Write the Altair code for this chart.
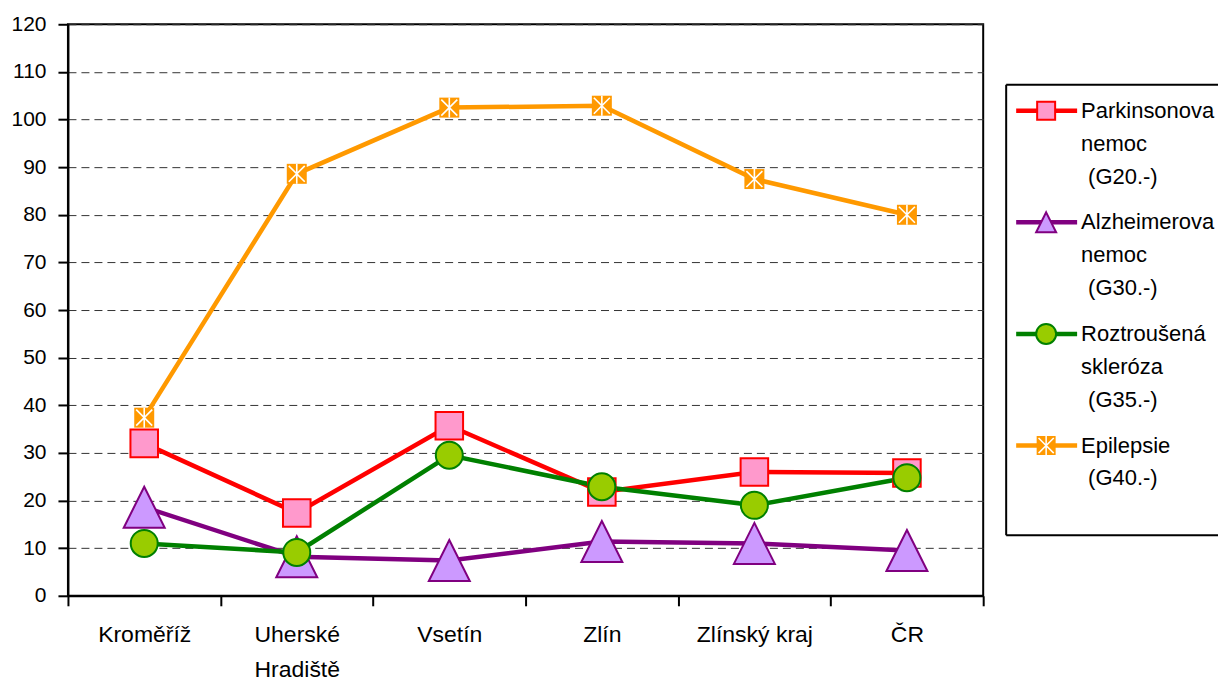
import altair as alt
import pandas as pd

# ---------------- data ----------------
categories = ["Kroměříž", "Uherské Hradiště", "Vsetín", "Zlín", "Zlínský kraj", "ČR"]
series_names = [
    "Parkinsonova nemoc (G20.-)",
    "Alzheimerova nemoc (G30.-)",
    "Roztroušená skleróza (G35.-)",
    "Epilepsie (G40.-)",
]
legend_names = ["Parkinsonova\nnemoc", "Alzheimerova\nnemoc", "Roztroušená\nskleróza", "Epilepsie"]
legend_codes = ["(G20.-)", "(G30.-)", "(G35.-)", "(G40.-)"]
parkinson = [32.0, 17.4, 35.7, 21.8, 26.0, 25.8]
alzheimer = [18.6, 8.2, 7.4, 11.4, 11.0, 9.5]
roztrousena = [11.0, 9.1, 29.5, 22.9, 19.0, 24.8]
epilepsie = [37.4, 88.6, 102.5, 102.9, 87.5, 80.0]
y_ticks = [0, 10, 20, 30, 40, 50, 60, 70, 80, 90, 100, 110, 120]

# ---------------- styles ----------------
line_colors = ["#FF0000", "#800080", "#008000", "#FF9900"]
fill_colors = ["#FF99CC", "#CC99FF", "#99CC00", "#FF9900"]
TRI = "M0,-1L1,1L-1,1Z"
STAR = "M-0.8,-0.8L0.8,0.8M0.8,-0.8L-0.8,0.8M0,-1L0,1"
shapes = ["square", TRI, "circle", "square"]
plot_sizes = [760, 1681, 729, 400]
legend_sizes = [324, 400, 400, 361]
FONT = "Liberation Sans"
LEG_W = 212
LEG_H = 451
LINE_H = 33

rows = []
for s, vals in zip(series_names, [parkinson, alzheimer, roztrousena, epilepsie]):
    for c, v in zip(categories, vals):
        rows.append({"kraj": c, "serie": s, "hodnota": v})
df = pd.DataFrame(rows)

leg_df = pd.DataFrame({
    "serie": series_names,
    "nazev": legend_names,
    "kod": legend_codes,
    "radku": [n.count("\n") + 1 for n in legend_names],
    "poradi": list(range(len(series_names))),
})

# ---------------- main plot ----------------
x_enc = alt.X(
    "kraj:N", sort=categories, title=None,
    scale=alt.Scale(type="band", domain=categories, paddingInner=0, paddingOuter=0),
    axis=alt.Axis(
        labelAngle=0, tickBand="extent", tickSize=10, tickWidth=2, tickColor="black",
        domainColor="black", domainWidth=2, grid=False,
        labelFont=FONT, labelFontSize=23, labelColor="black", labelPadding=18,
        labelLineHeight=35, labelOverlap=False, labelBound=False,
        labelExpr="length(datum.label) > 14 ? split(datum.label, ' ') : datum.label",
    ),
)
y_enc = alt.Y(
    "hodnota:Q", title=None,
    scale=alt.Scale(domain=[0, 120], nice=False),
    axis=alt.Axis(
        values=y_ticks, tickSize=10, tickWidth=2, tickColor="black",
        domainColor="black", domainWidth=2,
        labelFont=FONT, labelFontSize=21, labelColor="black", labelPadding=12,
        grid=True, gridColor="#333333", gridDash=[8, 5], gridWidth=1,
    ),
)

base = alt.Chart(df).encode(x=x_enc, y=y_enc)

layers = [
    base.mark_line(strokeWidth=4.5).encode(
        color=alt.Color("serie:N", scale=alt.Scale(domain=series_names, range=line_colors), legend=None),
    )
]
for i, s in enumerate(series_names):
    sub = base.transform_filter(alt.datum.serie == s)
    if i == 3:
        layers.append(sub.mark_point(shape="square", size=plot_sizes[i], filled=True,
                                     fill=fill_colors[i], opacity=1, strokeWidth=0))
        layers.append(sub.mark_point(shape=STAR, size=plot_sizes[i], filled=False,
                                     stroke="white", strokeWidth=1.6, opacity=1))
    else:
        layers.append(sub.mark_point(shape=shapes[i], size=plot_sizes[i], filled=True,
                                     fill=fill_colors[i], stroke=line_colors[i],
                                     strokeWidth=2, opacity=1))

main = alt.layer(*layers).properties(
    width=916, height=572,
    view=alt.ViewBackground(stroke="black", strokeWidth=2, fill="white"),
)

# ---------------- legend ----------------
ly = alt.Y("poradi:Q", scale=alt.Scale(domain=[-0.233, 3.805], reverse=True), axis=None)
lbase = alt.Chart(leg_df).encode(y=ly)
border = alt.Chart(leg_df.head(1))
leg_layers = [
    # legend box (left, top, bottom edges; right edge lies beyond the page)
    border.mark_rule(strokeWidth=2, color="black").encode(
        x=alt.value(0), y=alt.value(0), y2=alt.value(LEG_H)),
    border.mark_rule(strokeWidth=2, color="black").encode(
        x=alt.value(0), x2=alt.value(LEG_W), y=alt.value(0)),
    border.mark_rule(strokeWidth=2, color="black").encode(
        x=alt.value(0), x2=alt.value(LEG_W), y=alt.value(LEG_H)),
    lbase.mark_rule(strokeWidth=4.5).encode(
        x=alt.value(10), x2=alt.value(71),
        color=alt.Color("serie:N", scale=alt.Scale(domain=series_names, range=line_colors), legend=None),
    ),
]
for i, s in enumerate(series_names):
    sub = lbase.transform_filter(alt.datum.serie == s)
    if i == 3:
        leg_layers.append(sub.mark_point(shape="square", size=legend_sizes[i], filled=True,
                                         fill=fill_colors[i], opacity=1, strokeWidth=0).encode(x=alt.value(40)))
        leg_layers.append(sub.mark_point(shape=STAR, size=legend_sizes[i], filled=False,
                                         stroke="white", strokeWidth=1.5, opacity=1).encode(x=alt.value(40)))
    else:
        leg_layers.append(sub.mark_point(shape=shapes[i], size=legend_sizes[i], filled=True,
                                         fill=fill_colors[i], stroke=line_colors[i],
                                         strokeWidth=2, opacity=1).encode(x=alt.value(40)))
text_props = dict(align="left", baseline="top", lineBreak="\n", lineHeight=LINE_H,
                  font=FONT, fontSize=22, color="black")
leg_layers.append(lbase.mark_text(dy=-10, **text_props).encode(x=alt.value(75), text="nazev:N"))
# the code line sits below the name lines, slightly indented
for n in sorted(set(leg_df["radku"])):
    leg_layers.append(
        lbase.transform_filter(alt.datum.radku == int(n))
        .mark_text(dx=7, dy=-10 + LINE_H * int(n), **text_props)
        .encode(x=alt.value(75), text="kod:N")
    )

legend = alt.layer(*leg_layers).properties(
    width=LEG_W, height=LEG_H,
    view=alt.ViewBackground(strokeOpacity=0, fill="white"),
)

chart = (
    alt.hconcat(main, legend, spacing=23, bounds="flush", center=True)
    .properties(padding={"left": 1, "top": 4, "right": 0, "bottom": 0}, background="white")
    .configure(font=FONT)
)

chart.save("out.html", embed_options={"renderer": "svg", "actions": False})
